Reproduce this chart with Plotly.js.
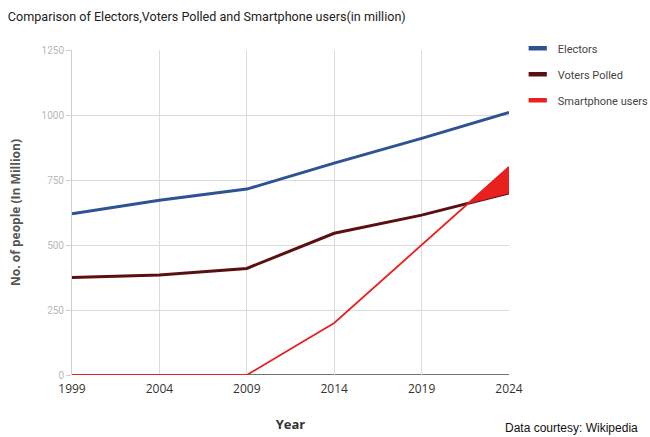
<!DOCTYPE html>
<html><head><meta charset="utf-8">
<script src="https://cdn.plot.ly/plotly-3.0.1.min.js"></script>
<style>html,body{margin:0;padding:0;background:#fff}#c{width:650px;height:437px}</style>
</head><body><div id="c"></div>
<script>
const years = [1999, 2004, 2009, 2014, 2019, 2024];
const electors = [620, 672, 715, 815, 910, 1010];
const votersPolled = [375, 385, 410, 545, 615, 700];
const smartphoneUsers = [0, 0, 0, 200, 500, 800];
const yTicks = [0, 250, 500, 750, 1000, 1250];
const seriesNames = ['Electors', 'Voters Polled', 'Smartphone users'];
const seriesColors = ['#2d5394', '#5a1010', '#e8201e'];

// shaded wedge between smartphone and voters lines after they cross (last segment)
const n = years.length - 1;
const x0 = years[n-1], x1 = years[n];
const ds0 = smartphoneUsers[n-1] - votersPolled[n-1];
const ds1 = smartphoneUsers[n] - votersPolled[n];
const t = ds0 / (ds0 - ds1);
const xc = x0 + t * (x1 - x0);
const yc = votersPolled[n-1] + t * (votersPolled[n] - votersPolled[n-1]);

const traces = [
  {x: years, y: electors, name: seriesNames[0], mode: 'lines', line: {color: seriesColors[0], width: 3}, showlegend: false},
  {x: years, y: votersPolled, name: seriesNames[1], mode: 'lines', line: {color: seriesColors[1], width: 3}, showlegend: false},
  {x: years, y: smartphoneUsers, name: seriesNames[2], mode: 'lines', line: {color: seriesColors[2], width: 1.8}, showlegend: false},
  {x: [xc, x1, x1, xc], y: [yc, smartphoneUsers[n], votersPolled[n], yc], mode: 'lines', fill: 'toself',
   fillcolor: '#e8201e', line: {color: '#e8201e', width: 1}, showlegend: false, hoverinfo: 'skip'}
];
// legend entries with short thick swatches
seriesNames.forEach((nm, i) => traces.push({
  x: [null], y: [null], name: nm, mode: 'markers', legendgroup: 'g' + i,
  marker: {symbol: 'line-ew', size: 13, color: seriesColors[i], line: {color: seriesColors[i], width: 4.5}}
}));

const layout = {
  width: 650, height: 437,
  margin: {l: 72, r: 141, t: 50, b: 62, autoexpand: false},
  paper_bgcolor: '#fff', plot_bgcolor: '#fff',
  font: {family: 'Roboto, sans-serif'},
  title: {text: 'Comparison of Electors,Voters Polled and Smartphone users(in million)',
    x: 0.012, xanchor: 'left', y: 0.962, yanchor: 'middle',
    font: {size: 12.6, color: '#222', family: 'Roboto, sans-serif'}},
  xaxis: {range: [1999, 2024], tickvals: years, ticktext: years.map(String),
    showgrid: true, gridcolor: '#dcdcdc', gridwidth: 1, zeroline: false,
    showline: false, ticks: 'outside', ticklen: 3, tickcolor: 'rgba(0,0,0,0)',
    tickfont: {size: 12, color: '#333', family: 'Open Sans, sans-serif'},
    title: {text: '<b>Year</b>', font: {size: 13, color: '#333', family: 'Open Sans, sans-serif'}, standoff: 23}},
  yaxis: {range: [0, 1250], tickvals: yTicks, ticktext: yTicks.map(String),
    showgrid: true, gridcolor: '#dcdcdc', gridwidth: 1, zeroline: false,
    showline: true, linecolor: '#cfcfcf', linewidth: 1, ticks: 'outside', ticklen: 5, tickcolor: '#cfcfcf',
    tickfont: {size: 10, color: '#b8b8b8'},
    title: {text: '<b>No. of people (In Million)</b>', font: {size: 12, color: '#555', family: 'Open Sans, sans-serif'}, standoff: 18}},
  shapes: [{type: 'line', xref: 'paper', yref: 'y', x0: 0, x1: 1, y0: 0, y1: 0, line: {color: '#444', width: 1.5}, layer: 'below'}],
  legend: {x: 1.02, xanchor: 'left', y: 1.05, yanchor: 'top', font: {size: 11, color: '#444'},
    tracegroupgap: 7, itemwidth: 30, bgcolor: 'rgba(0,0,0,0)'},
  annotations: [{text: 'Data courtesy: Wikipedia', xref: 'paper', yref: 'paper', x: 1.3, y: -0.163,
    xanchor: 'right', yanchor: 'middle', showarrow: false, font: {size: 12, color: '#111', family: 'Liberation Sans, sans-serif'}}],
  showlegend: true
};
Plotly.newPlot('c', traces, layout, {displayModeBar: false, staticPlot: true});
</script></body></html>
